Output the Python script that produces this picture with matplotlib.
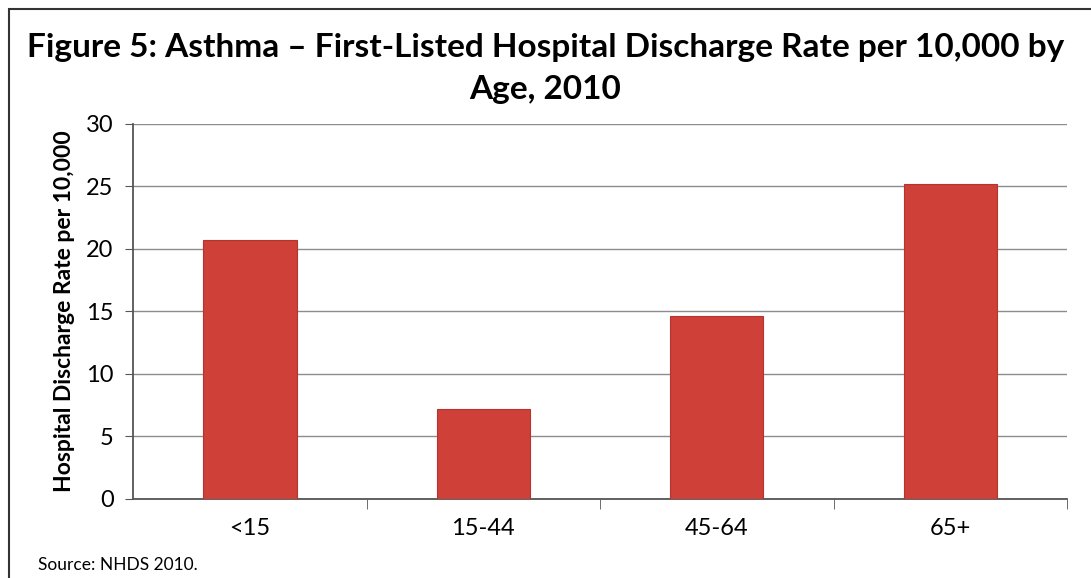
import matplotlib.pyplot as plt
from matplotlib.patches import Rectangle

ages = ["<15", "15-44", "45-64", "65+"]
rates = [20.7, 7.2, 14.6, 25.2]
yticks = [0, 5, 10, 15, 20, 25, 30]

plt.rcParams['font.family'] = ['Lato', 'DejaVu Sans']

fig = plt.figure(figsize=(10.91, 5.78), dpi=100)
ax = fig.add_axes([0.122, 0.1367, 0.856, 0.6488])

x = list(range(len(ages)))
ax.bar(x, rates, width=0.40, color='#CE4038', edgecolor='#B5342D', linewidth=0.8, zorder=3)

ax.set_xlim(-0.5, len(ages) - 0.5)
ax.set_ylim(0, 30)
ax.set_yticks(yticks)
ax.tick_params(axis='y', labelsize=17, length=6, color='#555555', pad=8)
ax.yaxis.grid(True, color='#8c8c8c', linewidth=1.0, zorder=0)
ax.set_axisbelow(True)

# category labels centred, ticks at boundaries
ax.set_xticks(x)
ax.set_xticklabels(ages, fontsize=17)
ax.tick_params(axis='x', length=0, pad=14)
ax.set_xticks([i + 0.5 for i in range(len(ages))], minor=True)
ax.tick_params(axis='x', which='minor', length=7, color='#555555', direction='out')

for s in ['top', 'right']:
    ax.spines[s].set_visible(False)
for s in ['left', 'bottom']:
    ax.spines[s].set_color('#555555')
    ax.spines[s].set_linewidth(1.3)

ax.set_ylabel('Hospital Discharge Rate per 10,000', fontsize=16.5, fontweight='bold', labelpad=8)

fig.text(0.5, 0.918, 'Figure 5: Asthma \u2013 First-Listed Hospital Discharge Rate per 10,000 by',
         ha='center', va='center', fontsize=24, fontweight='bold')
fig.text(0.5, 0.845, 'Age, 2010', ha='center', va='center', fontsize=24, fontweight='bold')
fig.text(0.035, 0.022, 'Source: NHDS 2010.', ha='left', va='center', fontsize=12.5)

# outer frame
fig.patches.append(Rectangle((0.008, -0.01), 1.2, 0.995, transform=fig.transFigure,
                             fill=False, edgecolor='#333333', linewidth=1.5))

fig.savefig('out.png', dpi=100)
